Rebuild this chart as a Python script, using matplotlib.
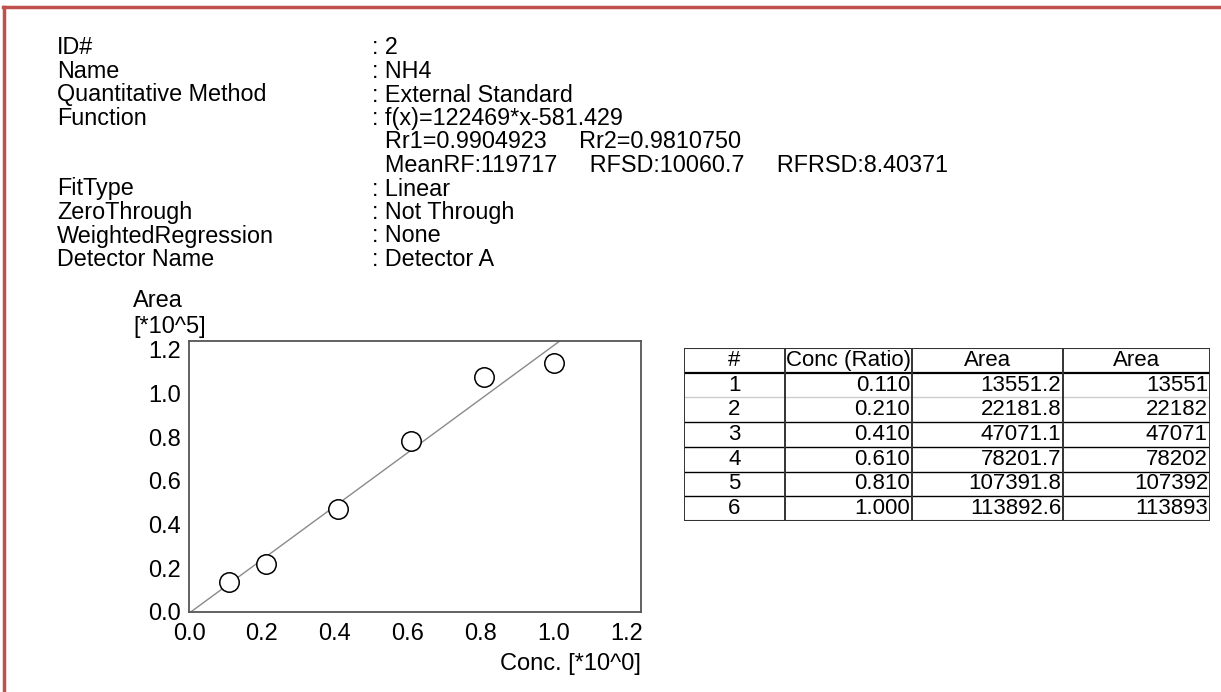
import matplotlib
matplotlib.use("Agg")
import matplotlib.pyplot as plt
from matplotlib.lines import Line2D

plt.rcParams['font.family'] = ['Liberation Sans', 'DejaVu Sans']

# header info
info_labels = ["ID#", "Name", "Quantitative Method", "Function", "", "",
               "FitType", "ZeroThrough", "WeightedRegression", "Detector Name"]
info_values = [": 2", ": NH4", ": External Standard", ": f(x)=122469*x-581.429",
               "  Rr1=0.9904923     Rr2=0.9810750",
               "  MeanRF:119717     RFSD:10060.7     RFRSD:8.40371",
               ": Linear", ": Not Through", ": None", ": Detector A"]

# calibration data
conc = [0.110, 0.210, 0.410, 0.610, 0.810, 1.000]
area = [13551.2, 22181.8, 47071.1, 78201.7, 107391.8, 113892.6]
area_int = [13551, 22182, 47071, 78202, 107392, 113893]
slope = 122469
intercept = -581.429

x_ticks = [0.0, 0.2, 0.4, 0.6, 0.8, 1.0, 1.2]
y_ticks = [0.0, 0.2, 0.4, 0.6, 0.8, 1.0, 1.2]

table_header = ["#", "Conc (Ratio)", "Area", "Area"]

W, H = 1221, 692
fig = plt.figure(figsize=(W / 100, H / 100), dpi=100)


def fx(px):
    return px / W


def fy(py):
    return 1 - py / H


# red frame (left and top only)
red = '#c0504d'
fig.add_artist(Line2D([fx(4), fx(4)], [fy(7), fy(H + 5)], color=red, lw=2.5))
fig.add_artist(Line2D([fx(3), fx(W + 5)], [fy(7), fy(7)], color=red, lw=2.5))

fs = 16.8
row_y = 48
for lab, val in zip(info_labels, info_values):
    if lab:
        fig.text(fx(57), fy(row_y), lab, fontsize=fs, va='center', ha='left')
    fig.text(fx(372), fy(row_y), val, fontsize=fs, va='center', ha='left')
    row_y += 23.5

# calibration curve
ax = fig.add_axes([fx(189), fy(612), fx(641 - 189), (612 - 341) / H])
xs = [0.0, 1.24]
ax.plot(xs, [(slope * v + intercept) / 1e5 for v in xs], color='#8a8a8a', lw=1)
ax.plot(conc, [a / 1e5 for a in area], 'o', ms=14, mfc='white', mec='black', mew=1.1)
ax.set_xlim(0, 1.24)
ax.set_ylim(0, 1.24)
ax.set_xticks(x_ticks)
ax.set_yticks(y_ticks)
ax.set_xticklabels([f"{v:.1f}" for v in x_ticks])
ax.set_yticklabels([f"{v:.1f}" for v in y_ticks])
ax.tick_params(length=0, labelsize=17)
ax.tick_params(axis='y', pad=6)
ax.tick_params(axis='x', pad=8)
for s in ax.spines.values():
    s.set_color('#555555')
    s.set_linewidth(1.3)

fig.text(fx(133), fy(301), "Area", fontsize=17, va='center', ha='left')
fig.text(fx(133), fy(327), "[*10^5]", fontsize=17, va='center', ha='left')
fig.text(fx(641), fy(664), "Conc. [*10^0]", fontsize=17, va='center', ha='right')

# table
col_edges = [684, 785, 912, 1063, 1210]
t_top, t_bot = 348, 521
nrows = len(conc) + 1
tax = fig.add_axes([fx(684), fy(t_bot), fx(1210 - 684), (t_bot - t_top) / H])
tax.set_xlim(col_edges[0], col_edges[-1])
tax.set_ylim(nrows, 0)
tax.axis('off')
tfs = 16
for r in range(1, nrows):
    c = '#cccccc' if r == 2 else 'black'
    tax.plot([col_edges[0], col_edges[-1]], [r, r], color=c, lw=1.6 if r == 1 else 1.0)
for e in col_edges:
    tax.plot([e, e], [0, nrows], color='#333333', lw=1.4)
tax.plot([col_edges[0], col_edges[-1]], [0, 0], color='#333333', lw=1.5)
tax.plot([col_edges[0], col_edges[-1]], [nrows, nrows], color='#333333', lw=1.5)
for i, h in enumerate(table_header):
    tax.text((col_edges[i] + col_edges[i + 1]) / 2, 0.5, h, fontsize=tfs,
             ha='center', va='center')
for r in range(len(conc)):
    y = r + 1.5
    tax.text((col_edges[0] + col_edges[1]) / 2, y, str(r + 1), fontsize=tfs,
             ha='center', va='center')
    vals = [f"{conc[r]:.3f}", f"{area[r]:.1f}", f"{area_int[r]}"]
    for j, v in enumerate(vals):
        tax.text(col_edges[j + 2] - 2, y, v, fontsize=tfs, ha='right', va='center')

fig.savefig("out.png", dpi=100)
